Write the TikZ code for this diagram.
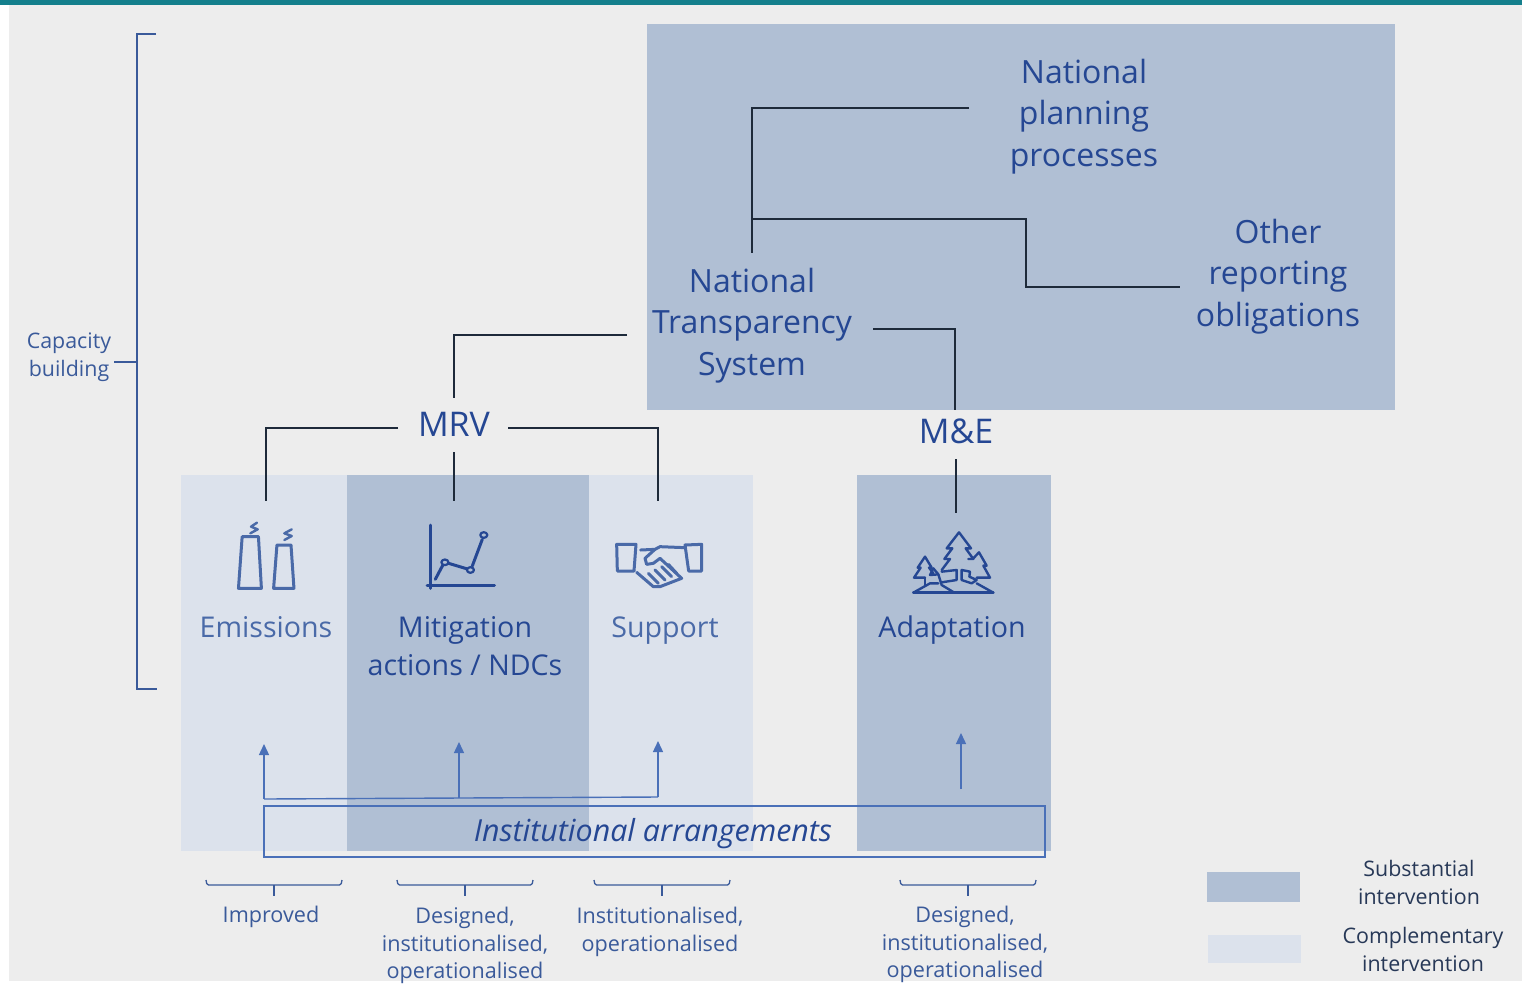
\documentclass[tikz,border=0pt]{standalone}
\usepackage{fontspec}
\setmainfont{Open Sans}
\usetikzlibrary{arrows.meta}
\definecolor{bgc}{HTML}{EDEDED}
\definecolor{teal}{HTML}{147F8C}
\definecolor{subc}{HTML}{B0BFD4}
\definecolor{compc}{HTML}{DCE2EC}
\definecolor{inkd}{HTML}{254793}
\definecolor{inkl}{HTML}{4A6AA8}
\definecolor{lblc}{HTML}{3A5A9A}
\definecolor{linec}{HTML}{4A70B8}
\definecolor{conn}{HTML}{1E2A3A}
\newcommand{\fsz}[2]{\fontsize{#1pt}{#2pt}\selectfont}
\newcommand{\bottombrace}[1]{\draw[bracec,rounded corners=1.5pt] (#1-68,880) -- (#1-67,885) -- (#1+67,885) -- (#1+68,880); \draw[bracec] (#1,885) -- (#1,896);}
\tikzset{
  bigtext/.style={text=inkd,align=center,inner sep=0pt,font=\fsz{32}{41.5}},
  acrotext/.style={bigtext,font=\fsz{34}{41.5}},
  paneltext/.style={text=inkd,align=center,inner sep=0pt,font=\fsz{28.6}{38}},
  lighttext/.style={paneltext,text=inkl},
  smalltext/.style={text=lblc,align=center,inner sep=0pt,font=\fsz{21.6}{27.5}},
  legendtext/.style={text=conn!70!lblc,align=center,inner sep=0pt,font=\fsz{21.4}{28}},
  conline/.style={draw=conn,line width=1.5pt},
  bracec/.style={draw=lblc,line width=1.3pt},
  arrowline/.style={draw=linec,line width=1.4pt,-{Triangle[length=11pt,width=10pt]}},
  busline/.style={draw=linec,line width=1.4pt},
  icon/.style={draw=#1,line width=3pt,line join=round,line cap=round},
  icon/.default=inkl,
}
\begin{document}
\begin{tikzpicture}[x=1pt,y=-1pt]
\useasboundingbox (0,0) rectangle (1522,983);
% background
\fill[white] (0,0) rectangle (1522,983);
\fill[bgc] (9,5) rectangle (1522,981);
\fill[teal] (0,0) rectangle (1522,5);
% panels
\fill[subc] (647,24) rectangle (1395,410);
\fill[compc] (181,475) rectangle (347,851);
\fill[subc] (347,475) rectangle (589,851);
\fill[compc] (589,475) rectangle (753,851);
\fill[subc] (857,475) rectangle (1051,851);
% main labels
\node[bigtext] (npp) at (1084,116.5) {National\\planning\\processes};
\node[bigtext] (oro) at (1278,276.5) {Other\\reporting\\obligations};
\node[bigtext] (nts) at (752,325.5) {National\\Transparency\\System};
\node[acrotext] (mrv) at (454,424) {MRV};
\node[acrotext] (me) at (956,431) {M\&E};
\node[lighttext,anchor=base] (emi) at (266,637) {Emissions};
\node[lighttext,anchor=base] (sup) at (665,637) {Support};
\node[paneltext,anchor=base] (mit) at (465,637) {Mitigation};
\node[paneltext,anchor=base] (mit2) at (465,675) {actions / NDCs};
\node[paneltext,anchor=base] (ada) at (952,637) {Adaptation};
\node[text=lblc,align=center,inner sep=0pt,font=\fsz{21.4}{28}] (cap) at (69,357) {Capacity\\building};
% free ends of connectors
\coordinate (nppL) at (969,108);
\coordinate (ntsT) at (752,253);
\coordinate (jn) at (752,219);
\coordinate (oroL) at (1180,287);
\coordinate (ntsL) at (627,335);
\coordinate (ntsR) at (873,329);
\coordinate (mrvT) at (454,398);
\coordinate (meT) at (955,410);
\coordinate (mrvL) at (398,428);
\coordinate (mrvR) at (508,428);
\coordinate (mrvB) at (454,452);
\coordinate (emiT) at (266,501);
\coordinate (mitT) at (454,501);
\coordinate (supT) at (658,501);
\coordinate (meB) at (956,459);
\coordinate (adaT) at (956,513);
% connectors
\draw[conline] (nppL) -- (nppL -| ntsT) -- (ntsT);
\draw[conline] (jn) -- (1026,219) -- (1026,287) -- (oroL);
\draw[conline] (ntsL) -- (ntsL -| mrvT) -- (mrvT);
\draw[conline] (ntsR) -- (ntsR -| meT) -- (meT);
\draw[conline] (mrvL) -- (mrvL -| emiT) -- (emiT);
\draw[conline] (mrvR) -- (mrvR -| supT) -- (supT);
\draw[conline] (mrvB) -- (mitT);
\draw[conline] (meB) -- (adaT);
% capacity bracket
\coordinate (capR) at (114,362);
\draw[bracec] (156,34) -- (137,34) -- (137,689) -- (157,689);
\draw[bracec] (capR) -- (capR -| 137,0);
% institutional box and arrows
\node[draw=linec,line width=1.4pt,minimum width=781pt,minimum height=51pt,inner sep=0pt,outer sep=0pt] (inst) at (654.5,831.5) {};
\node[text=inkd,inner sep=0pt,font=\itshape\fsz{30.4}{34}] (instt) at (653,834) {Institutional arrangements};
\coordinate (busL) at (264,799);
\coordinate (busM) at (459,798);
\coordinate (busR) at (658,797);
\coordinate (tipA) at (264,744);
\coordinate (tipB) at (459,742);
\coordinate (tipC) at (658,741);
\coordinate (adaB) at (961,789);
\coordinate (tipD) at (961,733);
\draw[busline] (busL) -- (busR);
\draw[arrowline] (busL) -- (tipA);
\draw[arrowline] (busM) -- (tipB);
\draw[arrowline] (busR) -- (tipC);
\draw[arrowline] (adaB) -- (tipD);
% lower brackets and labels
\bottombrace{274}
\bottombrace{465}
\bottombrace{662}
\bottombrace{968}
\node[smalltext,anchor=north] (l1) at (271,905.5) {Improved};
\node[smalltext,anchor=north] (l2) at (465,907) {Designed,\\institutionalised,\\operationalised};
\node[smalltext,anchor=north] (l3) at (660,907) {Institutionalised,\\operationalised};
\node[smalltext,anchor=north] (l4) at (965,906) {Designed,\\institutionalised,\\operationalised};
% legend
\fill[subc] (1207,872) rectangle (1300,902);
\fill[compc] (1208,935) rectangle (1301,963);
\node[legendtext] (lg1) at (1419,882) {Substantial\\intervention};
\node[legendtext] (lg2) at (1423,949) {Complementary\\intervention};
% icon: chimneys
\begin{scope}[shift={(180,500)},x=0.37pt,y=-0.3333pt,icon]
\draw (158,265) -- (168,110) -- (212,110) -- (220,265) -- cycle;
\draw (253,265) -- (262,135) -- (300,135) -- (308,265) -- cycle;
\draw[line width=2.4pt] (208,68) -- (192,80) -- (210,88) -- (190,100);
\draw[line width=2.4pt] (302,88) -- (282,100) -- (302,108) -- (282,120);
\end{scope}
% icon: chart
\begin{scope}[shift={(180,500)},x=0.37pt,y=-0.3333pt,icon=inkd]
\draw (678,75) -- (678,265);
\draw (668,255) -- (850,255);
\draw (690,238) -- (710,196);
\draw (726,190) -- (774,206);
\draw (790,198) -- (817,118);
\draw[line width=2.2pt] (716,187) ellipse [x radius=9.5,y radius=8.5];
\draw[line width=2.2pt] (785,210) ellipse [x radius=9.5,y radius=8.5];
\draw[line width=2.2pt] (821,105) ellipse [x radius=9.5,y radius=8.5];
\end{scope}
% icon: handshake
\begin{scope}[shift={(610,535)},x=0.3333pt,y=-0.3333pt,icon]
\draw (20,28) -- (78,28) -- (72,108) -- (22,108) -- cycle;
\draw (225,30) -- (275,28) -- (275,108) -- (236,108) -- cycle;
\draw (92,45) -- (135,43) -- (150,35) -- (225,38);
\draw (135,43) -- (105,70) -- (110,88) -- (130,85) -- (150,70) -- (215,130) -- (150,155) -- (130,155) -- (80,112);
\draw (115,115) -- (145,145) (135,105) -- (165,135) (155,95) -- (185,125) (175,88) -- (200,115);
\end{scope}
% icon: trees
\begin{scope}[shift={(905,525)},x=0.3333pt,y=-0.3333pt,icon=inkd,line width=2.4pt]
\draw (25,203) -- (265,203);
\draw (25,203) -- (75,175) -- (100,175);
\draw (85,130) -- (100,148) -- (110,180) -- (148,203);
\draw (215,175) -- (265,203);
\draw (110,135) -- (135,102) -- (118,102) -- (142,70) -- (125,70) -- (162,22) -- (198,70) -- (182,70) -- (205,102) -- (190,102);
\draw (205,100) -- (222,82) -- (245,122) -- (235,122) -- (255,158) -- (215,158);
\draw (60,158) -- (27,158) -- (47,128) -- (38,128) -- (60,95) -- (80,128) -- (72,128) -- (85,145);
\draw (110,140) -- (155,135) -- (155,165) -- (110,172);
\draw (170,135) -- (195,140) -- (193,155) -- (215,165) -- (200,175) -- (170,165) -- cycle;
\draw (60,158) -- (60,180);
\draw (85,130) -- (75,150) -- (100,148);
\end{scope}
\end{tikzpicture}
\end{document}
